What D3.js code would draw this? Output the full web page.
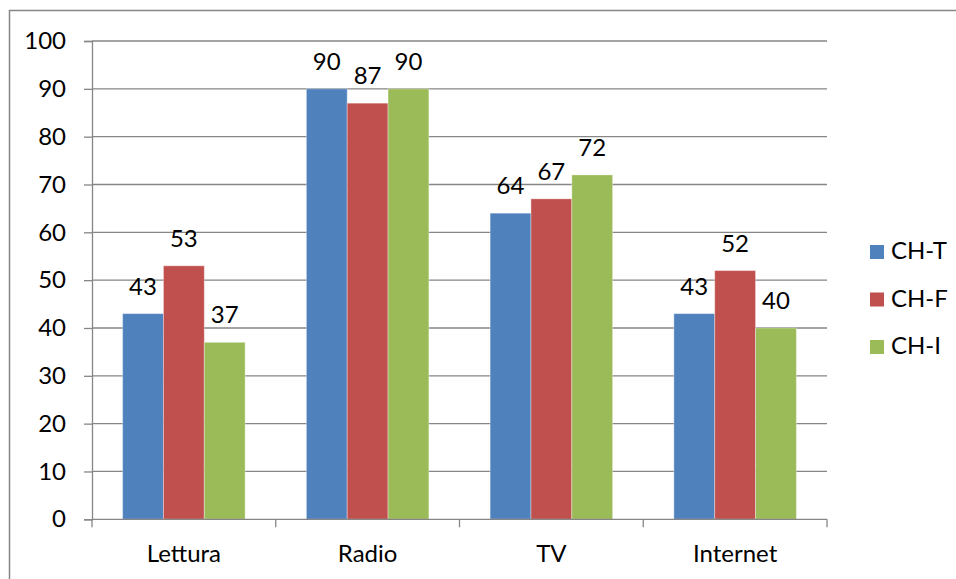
<!DOCTYPE html>
<html>
<head>
<meta charset="utf-8">
<script src="https://cdn.jsdelivr.net/npm/d3@7"></script>
<style>
  html, body { margin: 0; padding: 0; background: #ffffff; }
  svg { display: block; }
  text { font-family: Lato, "Open Sans", sans-serif; fill: #000; }
</style>
</head>
<body>
<svg id="chart" width="956" height="579"></svg>
<script>
// Categories and series (percent)
const categories = ["Lettura", "Radio", "TV", "Internet"];
const seriesNames = ["CH-T", "CH-F", "CH-I"];
const chT = [43, 90, 64, 43];
const chF = [53, 87, 67, 52];
const chI = [37, 90, 72, 40];
const yTicks = [0, 10, 20, 30, 40, 50, 60, 70, 80, 90, 100];
const colors = ["#4F81BD", "#C0504D", "#9BBB59"];

const seriesValues = [chT, chF, chI];
const rows = categories.map((c, i) => ({
  category: c,
  values: seriesNames.map((s, k) => ({ series: s, value: seriesValues[k][i], color: colors[k] }))
}));

const svg = d3.select("#chart");
const fontSize = 24;

// Chart frame (only top and left edges fall inside the view)
svg.append("rect")
  .attr("x", 9.5).attr("y", 10.5)
  .attr("width", 1200).attr("height", 800)
  .attr("fill", "#fff")
  .attr("stroke", "#868686").attr("stroke-width", 1.5);

const plot = { left: 92, right: 827, top: 41, bottom: 519.3 };

const x = d3.scaleBand()
  .domain(categories)
  .range([plot.left, plot.right])
  .paddingInner(0).paddingOuter(0);

// Within each category: gap of 150% of a bar width split on both sides
const xs = d3.scaleBand()
  .domain(seriesNames)
  .range([0, x.bandwidth()])
  .paddingInner(0)
  .paddingOuter(0.75);

const y = d3.scaleLinear().domain([0, 100]).range([plot.bottom, plot.top]);

// Gridlines
svg.append("g")
  .selectAll("line")
  .data(yTicks.filter(t => t > 0))
  .join("line")
  .attr("x1", plot.left).attr("x2", plot.right)
  .attr("y1", d => y(d)).attr("y2", d => y(d))
  .attr("stroke", "#868686").attr("stroke-width", 1.3);

// Bars
const groups = svg.append("g")
  .selectAll("g")
  .data(rows)
  .join("g")
  .attr("transform", d => `translate(${x(d.category)},0)`);

groups.selectAll("rect")
  .data(d => d.values)
  .join("rect")
  .attr("x", d => xs(d.series))
  .attr("width", xs.bandwidth())
  .attr("y", d => y(d.value))
  .attr("height", d => y(0) - y(d.value))
  .attr("fill", d => d.color)
  .attr("stroke", "rgba(255,255,255,0.35)")
  .attr("stroke-width", 1);

// Value labels above bars
groups.selectAll("text.val")
  .data(d => d.values)
  .join("text")
  .attr("class", "val")
  .attr("x", d => xs(d.series) + xs.bandwidth() / 2)
  .attr("y", d => y(d.value) - 19)
  .attr("text-anchor", "middle")
  .attr("font-size", fontSize)
  .text(d => d3.format(".0f")(d.value));

// Y axis
const yAxis = d3.axisLeft(y).tickValues(yTicks).tickSize(8).tickPadding(18).tickFormat(d3.format("d"));
const gy = svg.append("g")
  .attr("transform", `translate(${plot.left},0)`)
  .call(yAxis);
gy.select(".domain").attr("stroke", "#868686").attr("stroke-width", 1.3);
gy.selectAll(".tick line").attr("stroke", "#868686").attr("stroke-width", 1.3);
gy.selectAll(".tick text")
  .attr("font-size", fontSize)
  .attr("font-family", "Lato, sans-serif")
  .attr("fill", "#000");

// X axis with ticks at category boundaries
const gx = svg.append("g")
  .attr("transform", `translate(0,${plot.bottom})`);
gx.append("line")
  .attr("x1", plot.left).attr("x2", plot.right)
  .attr("y1", 0).attr("y2", 0)
  .attr("stroke", "#868686").attr("stroke-width", 1.3);
const boundaries = categories.map(c => x(c)).concat([plot.right]);
gx.selectAll("line.tk")
  .data(boundaries)
  .join("line")
  .attr("class", "tk")
  .attr("x1", d => d).attr("x2", d => d)
  .attr("y1", 0).attr("y2", 8)
  .attr("stroke", "#868686").attr("stroke-width", 1.3);
gx.selectAll("text")
  .data(categories)
  .join("text")
  .attr("x", d => x(d) + x.bandwidth() / 2)
  .attr("y", 43)
  .attr("text-anchor", "middle")
  .attr("font-size", fontSize)
  .text(d => d);

// Legend
const legend = svg.append("g").attr("transform", "translate(870,245)");
const li = legend.selectAll("g")
  .data(seriesNames)
  .join("g")
  .attr("transform", (d, i) => `translate(0,${i * 47.5})`);
li.append("rect")
  .attr("width", 14).attr("height", 14)
  .attr("fill", (d, i) => colors[i]);
li.append("text")
  .attr("x", 21).attr("y", 14)
  .attr("font-size", fontSize)
  .text(d => d);
</script>
</body>
</html>
